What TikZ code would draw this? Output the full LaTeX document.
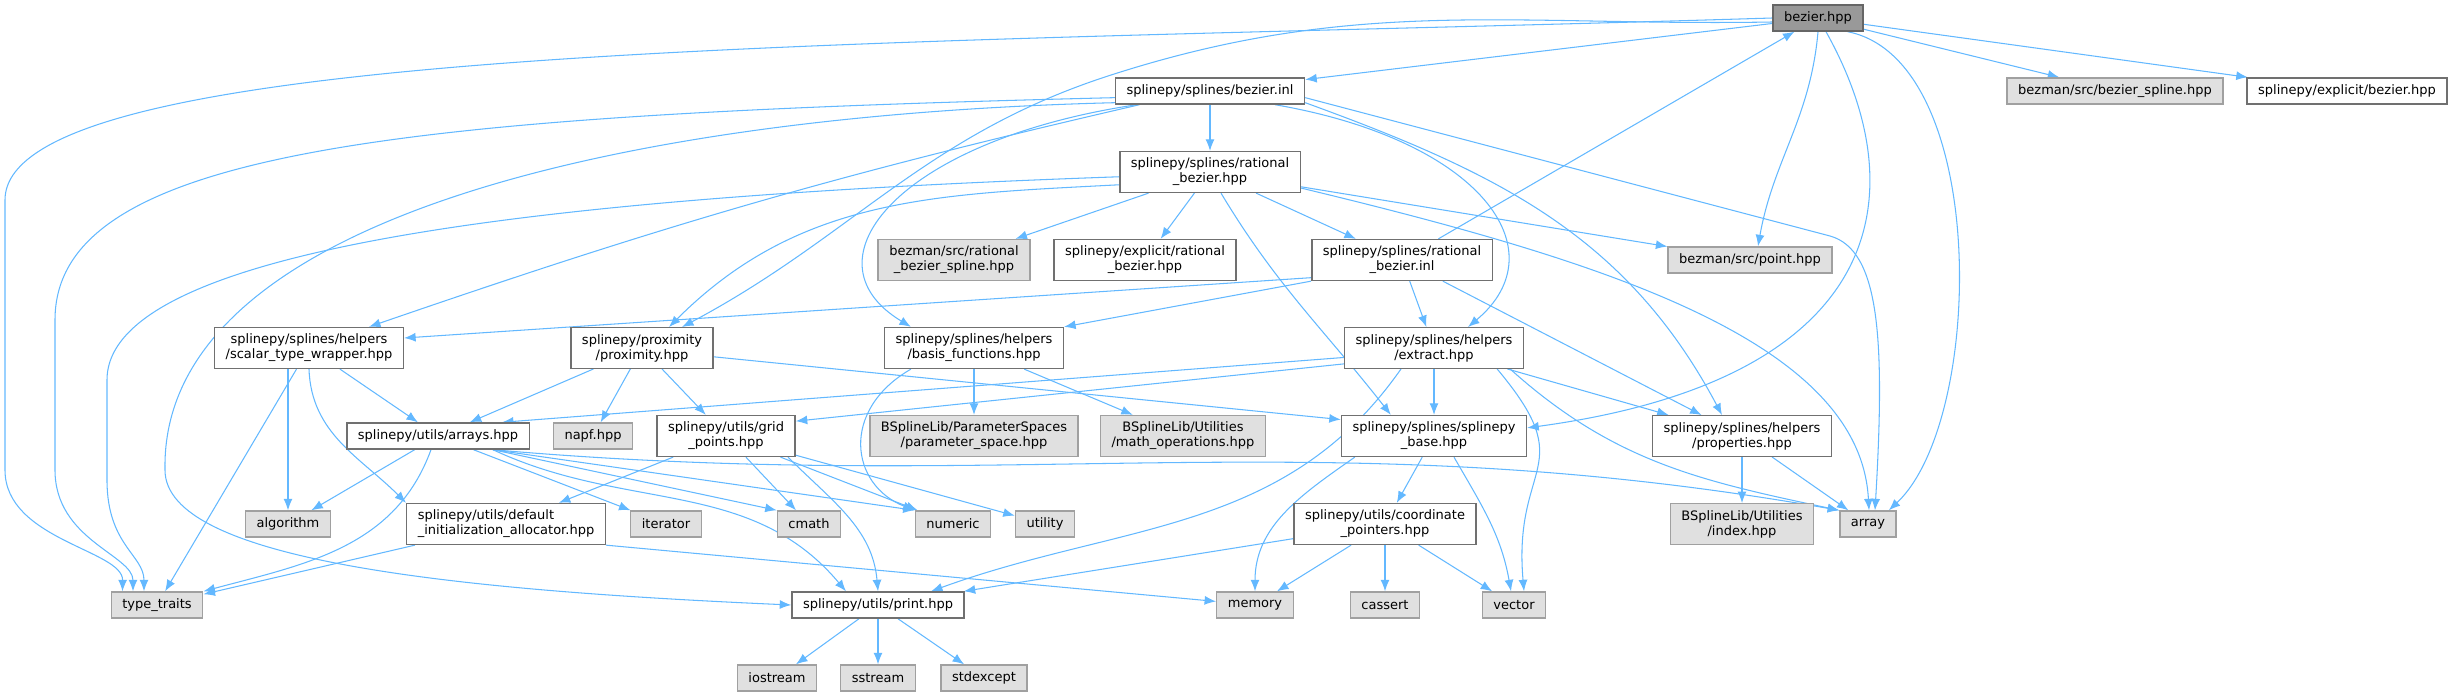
\documentclass[tikz,border=0pt]{standalone}
\usepackage{fontspec}
\setmainfont{DejaVu Sans}
\usetikzlibrary{arrows.meta, calc}
\definecolor{inclblue}{HTML}{63B8FF}
\definecolor{rootgray}{HTML}{999999}
\definecolor{rootline}{HTML}{666666}
\definecolor{sysgray}{HTML}{E0E0E0}
\definecolor{sysline}{HTML}{A0A0A0}
\definecolor{docline}{HTML}{707070}
\pgfdeclarelayer{edges}
\pgfsetlayers{edges,main}
\tikzset{
  file/.style={
    rectangle,
    draw,
    align=center,
    minimum height=0.52cm,
    inner xsep=6.3pt,
    inner ysep=3.7pt,
    line width=0.8pt,
    font=\fontsize{7.4}{8.5}\selectfont
  },
  rootfile/.style={file, fill=rootgray, draw=rootline},
  docfile/.style={file, fill=white, draw=docline},
  sysfile/.style={file, fill=sysgray, draw=sysline},
  incl/.style={-{Latex[length=2.3mm,width=1.8mm]}, color=inclblue, line width=0.6pt}
}

\begin{document}
\begin{tikzpicture}[x=0.02cm, y=-0.02cm]
  \useasboundingbox (0,0) rectangle (2453,696);

  \node[rootfile] (bzh) at (1818,18) {bezier.hpp};
  \node[docfile] (bzinl) at (1210,91) {splinepy/splines/bezier.inl};
  \node[sysfile] (bzspl) at (2115,91) {bezman/src/bezier\_spline.hpp};
  \node[docfile] (exbz) at (2347,91) {splinepy/explicit/bezier.hpp};
  \node[docfile] (rbzh) at (1210,172) {splinepy/splines/rational\\\_bezier.hpp};
  \node[sysfile] (rbzspl) at (954,260) {bezman/src/rational\\\_bezier\_spline.hpp};
  \node[docfile] (exrbz) at (1145,260) {splinepy/explicit/rational\\\_bezier.hpp};
  \node[docfile] (rbzinl) at (1402,260) {splinepy/splines/rational\\\_bezier.inl};
  \node[sysfile] (point) at (1750,260) {bezman/src/point.hpp};
  \node[docfile] (scalar) at (309,348) {splinepy/splines/helpers\\/scalar\_type\_wrapper.hpp};
  \node[docfile] (prox) at (642,348) {splinepy/proximity\\/proximity.hpp};
  \node[docfile] (basis) at (974,348) {splinepy/splines/helpers\\/basis\_functions.hpp};
  \node[docfile] (extract) at (1434,348) {splinepy/splines/helpers\\/extract.hpp};
  \node[docfile] (arrays) at (438,436) {splinepy/utils/arrays.hpp};
  \node[sysfile] (napf) at (593,436) {napf.hpp};
  \node[docfile] (grid) at (726,436) {splinepy/utils/grid\\\_points.hpp};
  \node[sysfile] (pspace) at (974,436) {BSplineLib/ParameterSpaces\\/parameter\_space.hpp};
  \node[sysfile] (mathops) at (1183,436) {BSplineLib/Utilities\\/math\_operations.hpp};
  \node[docfile] (base) at (1434,436) {splinepy/splines/splinepy\\\_base.hpp};
  \node[docfile] (props) at (1742,436) {splinepy/splines/helpers\\/properties.hpp};
  \node[sysfile] (algorithm) at (288,524) {algorithm};
  \node[docfile, align=left] (definit) at (506,524) {splinepy/utils/default\\\_initialization\_allocator.hpp};
  \node[sysfile] (iterator) at (666,524) {iterator};
  \node[sysfile] (cmath) at (809,524) {cmath};
  \node[sysfile] (numeric) at (953,524) {numeric};
  \node[sysfile] (utility) at (1045,524) {utility};
  \node[docfile] (coord) at (1385,524) {splinepy/utils/coordinate\\\_pointers.hpp};
  \node[sysfile] (index) at (1742,524) {BSplineLib/Utilities\\/index.hpp};
  \node[sysfile] (array) at (1868,524) {array};
  \node[sysfile] (ttraits) at (157,605) {type\_traits};
  \node[docfile] (print) at (878,605) {splinepy/utils/print.hpp};
  \node[sysfile] (memory) at (1255,605) {memory};
  \node[sysfile] (cassert) at (1385,605) {cassert};
  \node[sysfile] (vector) at (1514,605) {vector};
  \node[sysfile] (iostream) at (777,678) {iostream};
  \node[sysfile] (sstream) at (878,678) {sstream};
  \node[sysfile] (stdexcept) at (984,678) {stdexcept};

  \begin{pgfonlayer}{edges}
  \draw[incl] (bzh) -- (bzinl);
  \draw[incl] (bzh) -- (bzspl);
  \draw[incl] (bzh) -- (exbz);
  \draw[incl] (bzh.south) to[out=-95,in=80] ($(point.north)+(8,0)$);
  \draw[incl] ($(bzh.south)+(8,0)$) .. controls (1920,200) and (1880,380) .. (base.5);
  \draw[incl] ($(bzh.south east)+(-16,0)$) .. controls (1990,60) and (1985,420) .. ($(array.north east)+(-8,0)$);
  \draw[incl] (bzh.185) to[out=181,in=18] (1108,76) to[out=198,in=28] ($(prox.north)+(40,0)$);
  \draw[incl] (bzh.west) .. controls (900,45) and (5,40) .. (5,200) -- (5,470) .. controls (5,540) and (123,550) .. ($(ttraits.north west)+(12,0)$);

  \draw[incl] (bzinl) -- (rbzh);
  \draw[incl] (bzinl.184) .. controls (400,115) and (55,150) .. (55,320) -- (55,470) .. controls (55,540) and (133,555) .. ($(ttraits.north)+(-24,0)$);
  \draw[incl] (bzinl.187) .. controls (620,115) and (160,220) .. (165,470) .. controls (165,560) and (450,590) .. (print.west);
  \draw[incl] (bzinl.191) to[out=193,in=19] ($(scalar.north)+(60,0)$);
  \draw[incl] ($(bzinl.south west)+(22,0)$) .. controls (900,140) and (800,260) .. ($(basis.north west)+(27,0)$);
  \draw[incl] ($(bzinl.south)+(65,0)$) .. controls (1480,140) and (1560,250) .. ($(extract.north)+(34,0)$);
  \draw[incl] (bzinl.-7) to[out=-20,in=118] ($(props.north)+(-20,0)$);
  \draw[incl] (bzinl.-4) -- (1830,236) .. controls (1880,250) and (1885,340) .. ($(array.north)+(7,0)$);

  \draw[incl] (rbzh) -- (rbzspl);
  \draw[incl] (rbzh) -- (exrbz);
  \draw[incl] (rbzh) -- (rbzinl);
  \draw[incl] (rbzh) -- (point);
  \draw[incl] (rbzh.-10) .. controls (1600,260) and (1860,340) .. ($(array.north)+(1,0)$);
  \draw[incl] ($(rbzh.south)+(11,0)$) to[out=-59,in=128] ($(base.north west)+(50,0)$);
  \draw[incl] (rbzh.188) to[out=183,in=45] ($(prox.north)+(27,0)$);
  \draw[incl] (rbzh.183) .. controls (600,195) and (107,240) .. (107,380) -- (107,480) .. controls (107,545) and (144,555) .. ($(ttraits.north)+(-13,0)$);

  \draw[incl] (rbzinl) -- (bzh);
  \draw[incl] (rbzinl.191) -- ($(scalar.east)+(0,-10)$);
  \draw[incl] (rbzinl.south west) -- (basis.north east);
  \draw[incl] (rbzinl) -- (extract);
  \draw[incl] (rbzinl) -- (props);

  \draw[incl] (scalar) -- (arrays);
  \draw[incl] (algorithm |- scalar.south) -- (algorithm);
  \draw[incl] (scalar) -- (ttraits);
  \draw[incl] (scalar.south) to[out=-88,in=135] (definit.north west);

  \draw[incl] (prox) -- (arrays);
  \draw[incl] (prox) -- (napf);
  \draw[incl] (prox) -- (grid);
  \draw[incl] (prox.-7) -- (base.170);

  \draw[incl] (basis) -- (pspace);
  \draw[incl] (basis) -- (mathops);
  \draw[incl] ($(basis.south west)+(27,0)$) .. controls (840,410) and (850,485) .. (numeric.north west);

  \draw[incl] (extract.186) -- ($(arrays.north east)+(-28,0)$);
  \draw[incl] (extract.190) -- (grid.12);
  \draw[incl] (extract) -- (base);
  \draw[incl] (extract) -- (props);
  \draw[incl] ($(extract.south)+(-33,0)$) to[out=-125,in=20] ($(print.north)+(53,0)$);
  \draw[incl] ($(extract.south east)+(-14,0)$) to[out=-42,in=168] (array.north west);
  \draw[incl] ($(extract.south east)+(-27,0)$) to[out=-50,in=95,looseness=1.5] ($(vector.north)+(10,0)$);

  \draw[incl] (props) -- (index);
  \draw[incl] (props) -- (array);

  \draw[incl] (base) -- (coord);
  \draw[incl] ($(base.south west)+(14,0)$) to[out=-145,in=90] (memory.north);
  \draw[incl] ($(base.south)+(20,0)$) to[out=-60,in=100] ($(vector.north)+(-3,0)$);

  \draw[incl] (arrays) -- (algorithm);
  \draw[incl] (arrays) -- (iterator);
  \draw[incl] ($(arrays.south east)+(-37,0)$) -- (cmath.north west);
  \draw[incl] ($(arrays.south east)+(-37,0)$) -- (numeric.north west);
  \draw[incl] ($(arrays.south east)+(-37,0)$) to[out=-5,in=170] (array.north west);
  \draw[incl] ($(arrays.south)+(-7,0)$) to[out=-110,in=15] (ttraits.north east);
  \draw[incl] ($(arrays.south east)+(-37,0)$) to[out=-25,in=130] ($(print.north)+(-32,0)$);

  \draw[incl] (grid) -- (definit);
  \draw[incl] (grid) -- (cmath);
  \draw[incl] (grid) -- (numeric);
  \draw[incl] (grid) -- (utility);
  \draw[incl] ($(grid.south)+(62,0)$) to[out=-45,in=95] (print.north);

  \draw[incl] (definit) -- (ttraits);
  \draw[incl] (definit.south east) -- (memory);

  \draw[incl] (coord) -- (print);
  \draw[incl] (coord) -- (memory);
  \draw[incl] (coord) -- (cassert);
  \draw[incl] (coord) -- (vector);

  \draw[incl] (print) -- (iostream);
  \draw[incl] (print) -- (sstream);
  \draw[incl] (print) -- (stdexcept);
  \end{pgfonlayer}
\end{tikzpicture}
\end{document}
